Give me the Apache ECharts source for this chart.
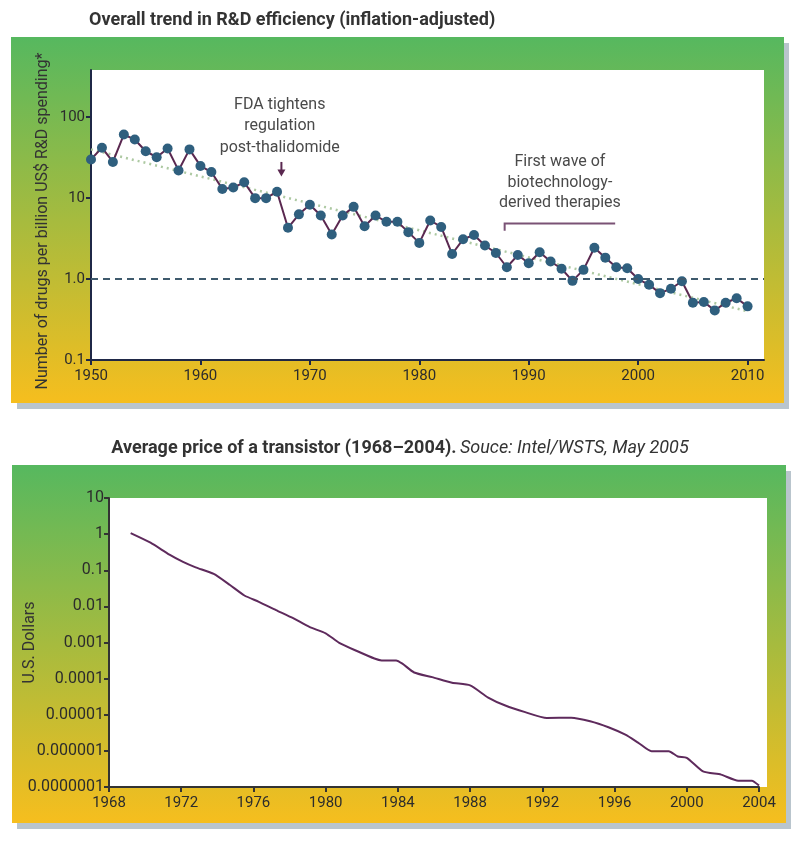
<!DOCTYPE html>
<html><head><meta charset="utf-8">
<script src="https://cdn.jsdelivr.net/npm/echarts@6/dist/echarts.min.js"></script>
<style>html,body{margin:0;padding:0;background:#fff}#c{width:800px;height:850px}</style>
</head><body><div id="c"></div>
<script>
// ---- Chart 1: R&D efficiency ----
const rdYears = [1950,1951,1952,1953,1954,1955,1956,1957,1958,1959,1960,1961,1962,1963,1964,1965,1966,1967,1968,1969,1970,1971,1972,1973,1974,1975,1976,1977,1978,1979,1980,1981,1982,1983,1984,1985,1986,1987,1988,1989,1990,1991,1992,1993,1994,1995,1996,1997,1998,1999,2000,2001,2002,2003,2004,2005,2006,2007,2008,2009,2010];
const rdValues = [30,42,28,61,53,38,32,41,22,40,25,21,13,13.5,15.7,10,10,12,4.3,6.3,8.3,6.1,3.55,6.1,7.8,4.5,6.1,5.1,5.1,3.8,2.8,5.3,4.4,2.04,3.1,3.5,2.6,2.1,1.4,1.98,1.57,2.14,1.65,1.34,0.95,1.3,2.44,1.84,1.4,1.36,1.0,0.85,0.67,0.76,0.94,0.51,0.52,0.41,0.51,0.58,0.46];
const trendYears = [1950, 2010];
const trendValues = [40, 0.4];
const rdRefValue = 1.0;
const rdXTicks = [1950,1960,1970,1980,1990,2000,2010];
const rdYTicks = [0.1, 1, 10, 100];
const rdYTickLabels = ['0.1','1.0','10','100'];
const rdTitle = 'Overall trend in R&D efficiency (inflation-adjusted)';
const rdYName = 'Number of drugs per billion US$ R&D spending*';
const fdaText = 'FDA tightens\nregulation\npost-thalidomide';
const fdaTextAt = [1967.25, 77];
const fdaArrow = [1967.4, 28, 18.5];
const bioText = 'First wave of\nbiotechnology-\nderived therapies';
const bioTextAt = [1992.85, 15.4];
const bioBracket = [1987.8, 1997.9, 4.85, 3.95];

// ---- Chart 2: transistor price ----
const priceYears = [1969.2,1970.3,1971.35,1972.1,1972.8,1973.8,1974.7,1975.5,1976.3,1977.25,1978.2,1979.1,1980.0,1980.75,1981.7,1982.7,1983.1,1983.9,1984.25,1984.9,1985.9,1987.0,1988.0,1989.0,1989.95,1991.05,1992.25,1993.6,1994.65,1995.66,1996.6,1997.3,1998.05,1999.0,1999.5,2000.0,2000.9,2001.9,2002.85,2003.6,2004.0];
const priceValues = [1.07,0.58,0.27,0.17,0.12,0.079,0.039,0.020,0.0134,0.0079,0.0047,0.0027,0.0018,0.00098,0.00059,0.00036,0.00032,0.00032,0.00026,0.000148,0.00011,0.000077,0.000065,0.000030,0.000018,0.0000118,0.0000081,0.0000083,0.0000066,0.0000045,0.0000028,0.0000017,0.00000098,0.00000098,0.0000007,0.00000064,0.00000027,0.00000022,0.00000015,0.00000015,0.00000011];
const priceYTickLabels = ['0.0000001','0.000001','0.00001','0.0001','0.001','0.01','0.1','1','10'];
const priceTitleBold = 'Average price of a transistor (1968\u20132004).';
const priceTitleItalic = 'Souce: Intel/WSTS, May 2005';
const priceYName = 'U.S. Dollars';

const FONT = 'Roboto';
const chart = echarts.init(document.getElementById('c'), null, {renderer: 'canvas'});

function logLabel(labels, minExp) {
  return function (v) {
    const e = Math.log10(v);
    const r = Math.round(e);
    if (Math.abs(e - r) > 1e-6) return '';
    return labels[r - minExp] || '';
  };
}

const option = {
  backgroundColor: '#ffffff',
  animation: false,
  grid: [
    {left: 91, top: 70, width: 673, height: 290},
    {left: 109, top: 498, width: 650, height: 289}
  ],
  xAxis: [
    {
      gridIndex: 0, type: 'value', min: 1950, max: 2011.5, interval: 10,
      axisLine: {show: true, onZero: false, lineStyle: {color: '#1f2847', width: 2}},
      axisTick: {show: true, length: 5, lineStyle: {color: '#1f2847', width: 2}, customValues: rdXTicks},
      axisLabel: {customValues: rdXTicks, color: '#2c2c2c', fontSize: 15, fontFamily: FONT, margin: 9,
        formatter: v => String(v)},
      splitLine: {show: false}
    },
    {
      gridIndex: 1, type: 'value', min: 1968, max: 2004, interval: 4,
      axisLine: {show: true, onZero: false, lineStyle: {color: '#333333', width: 2}},
      axisTick: {show: true, length: 5, lineStyle: {color: '#333333', width: 2}},
      axisLabel: {color: '#2c2c2c', fontSize: 15, fontFamily: FONT, margin: 9, formatter: v => String(v)},
      splitLine: {show: false}
    }
  ],
  yAxis: [
    {
      gridIndex: 0, type: 'log', logBase: 10, min: 0.1, max: 383,
      name: rdYName, nameLocation: 'middle', nameGap: 40, nameMoveOverlap: false,
      nameTextStyle: {color: '#333', fontSize: 16, fontFamily: FONT, padding: [0, 0, 0, -12]},
      axisLine: {show: true, lineStyle: {color: '#1f2847', width: 2}},
      axisTick: {show: true, length: 5, lineStyle: {color: '#1f2847', width: 2}, customValues: rdYTicks},
      axisLabel: {customValues: rdYTicks, color: '#2c2c2c', fontSize: 15, fontFamily: FONT, margin: 6,
        formatter: logLabel(rdYTickLabels, -1)},
      splitLine: {show: false}
    },
    {
      gridIndex: 1, type: 'log', logBase: 10, min: 1e-7, max: 10, splitNumber: 8,
      name: priceYName, nameLocation: 'middle', nameGap: 71, nameMoveOverlap: false,
      nameTextStyle: {color: '#333', fontSize: 16, fontFamily: FONT},
      axisLine: {show: true, lineStyle: {color: '#333333', width: 2}},
      axisTick: {show: true, length: 5, lineStyle: {color: '#333333', width: 2}},
      axisLabel: {color: '#2c2c2c', fontSize: 16, fontFamily: FONT, margin: 5,
        formatter: logLabel(priceYTickLabels, -7)},
      splitLine: {show: false}
    }
  ],
  series: [
    {
      type: 'line', xAxisIndex: 0, yAxisIndex: 0, z: 1,
      data: trendYears.map((y, i) => [y, trendValues[i]]),
      symbol: 'none', silent: true,
      lineStyle: {color: '#adc9a2', width: 2.5, type: [2, 4]},
      markLine: {
        silent: true, symbol: 'none',
        label: {show: false},
        lineStyle: {color: '#3f5a6d', width: 2, type: [7, 5]},
        data: [{yAxis: rdRefValue}]
      }
    },
    {
      type: 'line', xAxisIndex: 0, yAxisIndex: 0, z: 3,
      data: rdYears.map((y, i) => [y, rdValues[i]]),
      symbol: 'circle', symbolSize: 10,
      itemStyle: {color: '#2f5f7e'},
      lineStyle: {color: '#5a2850', width: 2}
    },
    {
      type: 'line', xAxisIndex: 1, yAxisIndex: 1,
      data: priceYears.map((y, i) => [y, priceValues[i]]),
      symbol: 'none', smooth: 0.2,
      lineStyle: {color: '#5e2a5c', width: 2}
    }
  ]
};
chart.setOption(option);

// Background panels, titles and annotations (positioned via the chart's own scales)
const g1 = chart.getModel().getComponent('grid', 0).coordinateSystem.getRect();
const g2 = chart.getModel().getComponent('grid', 1).coordinateSystem.getRect();
function px(gi, p) { return chart.convertToPixel({gridIndex: gi}, p); }
const grad = () => new echarts.graphic.LinearGradient(0, 0, 0, 1, [
  {offset: 0, color: '#56b85f'}, {offset: 1, color: '#f6be1e'}]);

const fdaPos = px(0, fdaTextAt);
const arrA = px(0, [fdaArrow[0], fdaArrow[1]]);
const arrB = px(0, [fdaArrow[0], fdaArrow[2]]);
const bioPos = px(0, bioTextAt);
const brL = px(0, [bioBracket[0], bioBracket[2]]);
const brR = px(0, [bioBracket[1], bioBracket[2]]);
const brT = px(0, [bioBracket[0], bioBracket[3]]);

chart.setOption({
  graphic: [
    {type: 'rect', z: -20, shape: {x: 17, y: 43, width: 772, height: 366}, style: {fill: '#b9c5cd'}, silent: true},
    {type: 'rect', z: -19, shape: {x: 11, y: 37, width: 773, height: 366}, style: {fill: grad()}, silent: true},
    {type: 'rect', z: -18, shape: {x: g1.x, y: g1.y, width: g1.width, height: g1.height}, style: {fill: '#ffffff'}, silent: true},
    {type: 'rect', z: -20, shape: {x: 17, y: 471, width: 774, height: 358}, style: {fill: '#b9c5cd'}, silent: true},
    {type: 'rect', z: -19, shape: {x: 12, y: 465, width: 774, height: 358}, style: {fill: grad()}, silent: true},
    {type: 'rect', z: -18, shape: {x: g2.x, y: g2.y, width: g2.width + 8, height: g2.height}, style: {fill: '#ffffff'}, silent: true},
    {type: 'text', z: 10, x: 89, y: 20, style: {text: rdTitle, fill: '#333', font: 'bold 18px ' + FONT, textVerticalAlign: 'middle', textAlign: 'left'}},
    {type: 'text', z: 10, x: 400, y: 448, style: {
      text: '{b|' + priceTitleBold + '} {i|' + priceTitleItalic + '}',
      textAlign: 'center', textVerticalAlign: 'middle',
      rich: {b: {fontWeight: 'bold', fontSize: 18, fontFamily: FONT, fill: '#333'},
             i: {fontStyle: 'italic', fontSize: 18, fontFamily: FONT, fill: '#333'}}}},
    {type: 'text', z: 10, x: fdaPos[0], y: fdaPos[1], style: {text: fdaText, fill: '#4a4a4a', font: '16px ' + FONT, textAlign: 'center', textVerticalAlign: 'middle', lineHeight: 21.5}},
    {type: 'line', z: 10, shape: {x1: arrA[0], y1: arrA[1], x2: arrB[0], y2: arrB[1] - 5}, style: {stroke: '#5a2850', lineWidth: 2}},
    {type: 'polygon', z: 10, shape: {points: [[arrB[0] - 4, arrB[1] - 7], [arrB[0] + 4, arrB[1] - 7], [arrB[0], arrB[1]]]}, style: {fill: '#5a2850'}},
    {type: 'text', z: 10, x: bioPos[0], y: bioPos[1], style: {text: bioText, fill: '#4a4a4a', font: '16px ' + FONT, textAlign: 'center', textVerticalAlign: 'middle', lineHeight: 20.5}},
    {type: 'polyline', z: 10, shape: {points: [[brT[0], brT[1]], [brL[0], brL[1]], [brR[0], brR[1]]]}, style: {stroke: '#7a5275', lineWidth: 2, fill: null}}
  ]
});
</script>
</body></html>
